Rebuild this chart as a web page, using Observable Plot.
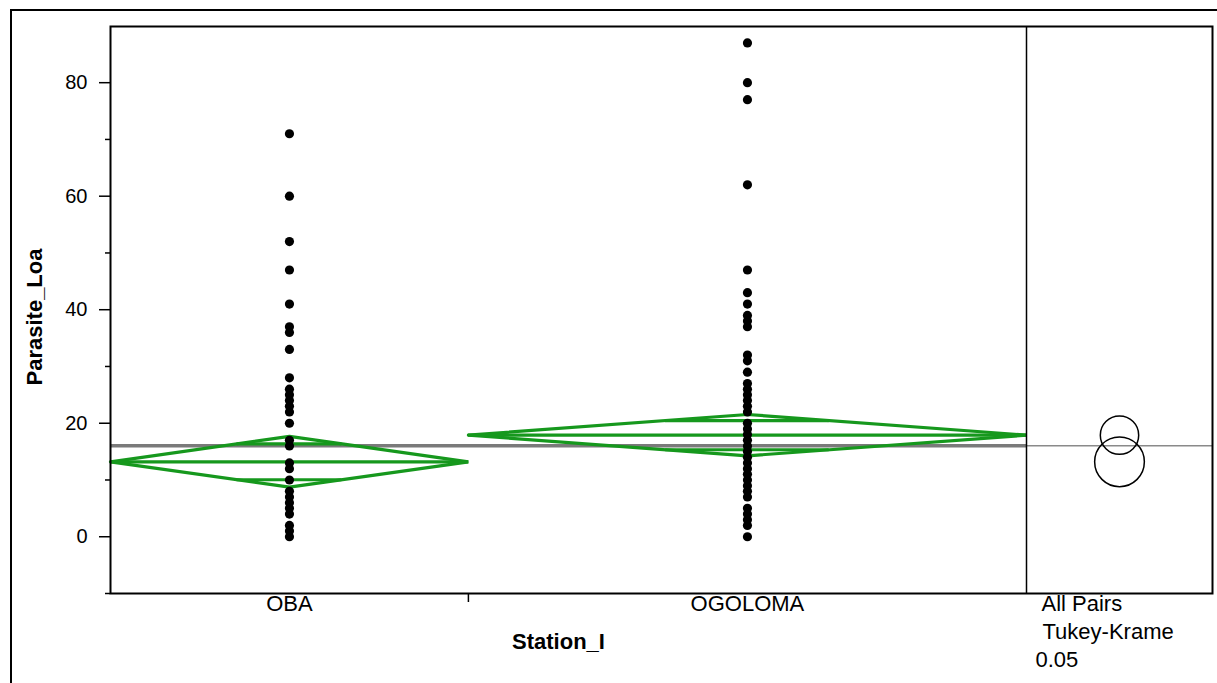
<!DOCTYPE html>
<html><head><meta charset="utf-8">
<script src="https://cdn.jsdelivr.net/npm/d3@7"></script>
<script src="https://cdn.jsdelivr.net/npm/@observablehq/plot@0.6"></script>
<style>
body{margin:0;background:#fff;}
#wrap{position:relative;width:1217px;height:683px;overflow:hidden;background:#fff;}
#outer{position:absolute;left:10px;top:9px;width:1300px;height:800px;border-left:2px solid #000;border-top:2px solid #000;}
#chart{position:absolute;left:0;top:0;}
</style></head><body>
<div id="wrap"><div id="outer"></div><div id="chart"></div></div>
<script>
// ---- data ----
const stations = ["OBA", "OGOLOMA"];
const groupN = [59, 92];                 // group sizes (estimated from group widths)
const obaValues = [0,1,2,4,5,6,7,8,10,12,13,16,17,20,22,23,24,25,26,28,33,36,37,41,47,52,60,71];
const ogolomaValues = [0,2,3,4,5,7,8,9,10,11,12,13,14,15,16,17,18,19,20,22,23,24,25,26,27,29,31,32,37,38,39,41,43,47,62,77,80,87];
const groupMeans = [13.2, 17.9];
const ciHalf = [4.47, 3.64];
const circleRadius = [4.38, 3.38];
const grandMean = 16.05;
const yTicks = [0, 20, 40, 60, 80];
const yMinorTicks = [-10, 10, 30, 50, 70];
const panelLines = ["All Pairs", "Tukey-Krame", "0.05"];
const yLabel = "Parasite_Loa";
const xLabel = "Station_I";

// ---- layout ----
const W = 1217, H = 683, mT = 26, mL = 110, mR = 5, mB = 90;
const mainPx = 916;                       // width of the means-diamond region
const plotPx = W - mL - mR;               // incl. comparison-circle panel
const yDomain = [-10, 89.9];
const total = d3.sum(groupN);
const xMax = total * plotPx / mainPx;
const pxPerUnit = (H - mT - mB) / (yDomain[1] - yDomain[0]);
const green = "#16981d";

const lefts = groupN.map((n, i) => d3.sum(groupN.slice(0, i)));
const rights = groupN.map((n, i) => lefts[i] + n);
const centers = groupN.map((n, i) => lefts[i] + n / 2);

const points = [];
[obaValues, ogolomaValues].forEach((vals, i) => vals.forEach(v => points.push({g: stations[i], x: centers[i], v})));

const diamond = [];
stations.forEach((s, i) => {
  const m = groupMeans[i], h = ciHalf[i];
  [[lefts[i], m], [centers[i], m + h], [rights[i], m], [centers[i], m - h], [lefts[i], m]]
    .forEach(([x, y]) => diamond.push({g: s, x, y}));
});
const meanLines = stations.map((s, i) => ({y: groupMeans[i], x1: lefts[i], x2: rights[i]}));
const k = 1 - 1 / Math.SQRT2;
const overlap = [];
stations.forEach((s, i) => {
  const hw = groupN[i] / 2 * k;
  [1, -1].forEach(sg => overlap.push({y: groupMeans[i] + sg * ciHalf[i] / Math.SQRT2, x1: centers[i] - hw, x2: centers[i] + hw}));
});
const panelCenter = (total + xMax) / 2;
const circles = stations.map((s, i) => ({x: panelCenter, y: groupMeans[i], r: circleRadius[i] * pxPerUnit}));

const font = "Liberation Sans, Arial, sans-serif";

const chart = Plot.plot({
  width: W, height: H,
  marginTop: mT, marginLeft: mL, marginRight: mR, marginBottom: mB,
  style: {fontFamily: font, fontSize: "20px", color: "black", background: "transparent"},
  x: {type: "linear", domain: [0, xMax]},
  y: {domain: yDomain},
  r: {type: "identity"},
  marks: [
    Plot.ruleY([grandMean], {x1: () => 0, x2: () => total, stroke: "#7a7a7a", strokeWidth: 3.5}),
    Plot.ruleY([grandMean], {x1: () => total, x2: () => xMax, stroke: "#8a8a8a", strokeWidth: 1.5}),
    Plot.line(diamond, {x: "x", y: "y", z: "g", stroke: green, strokeWidth: 3.2, strokeLinejoin: "miter"}),
    Plot.ruleY(meanLines, {y: "y", x1: "x1", x2: "x2", stroke: green, strokeWidth: 3.2}),
    Plot.ruleY(overlap, {y: "y", x1: "x1", x2: "x2", stroke: green, strokeWidth: 3.2}),
    Plot.dot(points, {x: "x", y: "v", r: 4.6, fill: "black", stroke: "none"}),
    Plot.dot(circles, {x: "x", y: "y", r: "r", stroke: "black", fill: "none", strokeWidth: 1.5}),
    Plot.ruleX([total], {stroke: "black", strokeWidth: 1.5}),
    Plot.frame({stroke: "black", strokeWidth: 2}),
    Plot.axisY({ticks: yTicks, tickSize: 11, tickPadding: 12, fontSize: 20, label: null, strokeWidth: 1.5}),
    Plot.axisY({ticks: yMinorTicks, tickSize: 5, tickFormat: () => "", label: null, strokeWidth: 1.5}),
    Plot.axisX({ticks: [groupN[0]], tickSize: 9, tickFormat: () => "", label: null, strokeWidth: 1.5}),
    Plot.text(stations, {x: (d, i) => centers[i], frameAnchor: "bottom", dy: 17, fontSize: 22, text: d => d}),
    Plot.text([xLabel], {x: () => total / 2, frameAnchor: "bottom", dx: -10, dy: 55, fontSize: 22, fontWeight: "bold", text: d => d}),
    Plot.text([yLabel], {frameAnchor: "left", textAnchor: "middle", dx: -76, dy: 7, rotate: -90, fontSize: 22, fontWeight: "bold", text: d => d}),
    Plot.text([panelLines[0]], {x: () => total, frameAnchor: "bottom", textAnchor: "start", dx: 15, dy: 17, fontSize: 22, text: d => d}),
    Plot.text([panelLines[1]], {x: () => total, frameAnchor: "bottom", textAnchor: "start", dx: 16, dy: 45, fontSize: 22, text: d => d}),
    Plot.text([panelLines[2]], {x: () => total, frameAnchor: "bottom", textAnchor: "start", dx: 9, dy: 73, fontSize: 22, text: d => d})
  ]
});
document.getElementById("chart").appendChild(chart);
</script>
</body></html>
